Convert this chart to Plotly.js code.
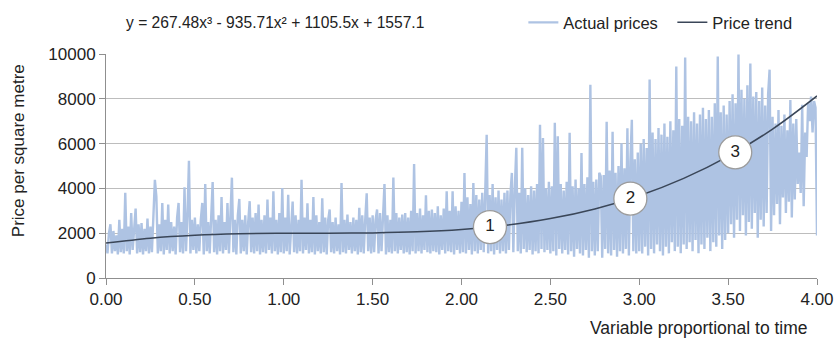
<!DOCTYPE html>
<html>
<head>
<meta charset="utf-8">
<script src="https://cdn.plot.ly/plotly-3.0.1.min.js"></script>
<style>html,body{margin:0;padding:0;background:#fff;}#chart{width:834px;height:338px;}</style>
</head>
<body>
<div id="chart"></div>
<script>
// Actual prices (x runs 0..4 in steps of 1/120)
const priceStep = 1 / 120;
const actualPrices = [
1500,1100,2000,2400,1100,2100,1200,1900,1050,2600,1150,2200,1100,3800,1200,2300,1050,2900,1250,2100,3100,1100,2400,1150,2450,1050,2200,1200,2650,1100,
2300,1150,2500,4380,3640,1100,2400,1200,3350,1050,2600,1250,3280,1100,2500,1200,2300,1050,2700,3350,1150,2500,1100,4050,1200,2800,5230,1100,2600,1250,
2700,1100,2400,1200,2600,3350,1050,4200,1200,2500,1100,2700,4280,1150,2600,1050,2800,1200,3620,1100,2500,1250,3350,1100,2700,4480,1150,2600,1050,2800,
3530,1100,2600,1200,2800,1050,2500,3430,1150,2700,1100,2900,1200,3280,1050,2600,1150,2800,1100,3500,1250,2700,1100,3870,1200,2600,1050,2900,1150,4020,
1100,2700,1200,3710,1050,2500,3410,1150,2800,1100,2600,1200,4380,1100,2700,1250,3330,1100,2600,1150,3620,1050,2800,1200,2500,1100,3560,1150,2700,1050,
2600,3060,1150,2500,1100,2700,1200,2400,1050,4240,1150,2600,1100,2830,1250,2500,1100,2700,1200,2600,1050,3130,1150,2800,1100,2600,3780,1200,2700,1100,
2800,1150,2600,3060,1100,2900,1200,2700,4190,1050,2800,1150,2600,1100,4490,1200,2900,1100,2700,1250,2830,1100,2900,1150,2700,1050,3000,1200,5090,1100,
2900,1200,3100,1100,2800,1250,3690,1150,3000,1100,3060,1200,2900,1150,3200,1050,2800,1250,3100,1100,3870,1200,3000,1150,3870,1050,3200,1250,3000,1100,
3400,1150,4690,1100,3600,1250,3300,1050,4240,1200,3700,1100,3500,1250,3800,1150,3400,6390,1100,3700,1200,4200,1050,3600,1250,3900,1100,3500,1200,3800,
1100,3900,1250,3700,4690,1150,4000,5810,1200,3800,1100,5810,1300,4000,1150,3700,1250,4100,1050,3900,1200,4200,1100,6840,1300,6250,1150,4000,1250,4300,
1100,4100,1200,6930,1000,6330,1300,4200,1100,3900,1250,4300,1050,6480,1200,4100,950,4400,1300,4000,1100,5580,1000,4200,1250,4500,900,8630,1200,4300,
1000,4400,1200,4700,4540,900,4600,1300,6970,1100,4800,1000,6530,1250,4700,950,5000,1200,6010,1100,4900,1300,6680,1000,5200,7060,1200,5300,1100,5600,
1200,6000,1100,6200,1400,5800,1000,8860,1300,6500,1100,6200,1500,6700,1200,6400,1000,6900,1400,6300,1100,7000,1600,6600,1200,9440,1400,7100,1100,6800,
1500,9840,1300,7200,1600,7000,1200,7400,1700,6900,1100,7300,1500,7600,1300,7100,1800,7500,1200,7200,1600,7800,1400,9890,1900,7400,1300,7700,1700,7300,
2000,7900,2400,8200,1800,7800,2600,9980,2100,8400,2800,8000,1900,8600,2500,9570,2200,8100,2900,8300,1800,7900,2600,8500,2300,7700,2900,8200,9300,2100,
7200,2800,6900,3300,7500,2400,6800,3600,7300,2900,6600,3400,7950,2700,6900,3500,7100,4200,5600,3800,7730,3200,6500,5400,7800,7000,8100,6500,7900,7600,1900
];
const priceX = actualPrices.map((v, i) => i * priceStep);

// Price trend
const trendX = [0,0.25,0.5,0.75,1,1.25,1.5,1.75,2,2.25,2.5,2.75,3,3.25,3.5,3.75,4];
const trendY = [1557,1779,1909,1973,1994,1999,2013,2060,2165,2354,2652,3084,3674,4449,5433,6649,8128];

// Numbered markers on the trend
const markX = [2.16, 2.95, 3.54];
const markY = [2275, 3542, 5610];
const markText = ['1', '2', '3'];

const equationText = 'y = 267.48x³ - 935.71x² + 1105.5x + 1557.1';
const xTicks = [0,0.5,1,1.5,2,2.5,3,3.5,4];
const xTickText = ['0.00','0.50','1.00','1.50','2.00','2.50','3.00','3.50','4.00'];
const yTicks = [0,2000,4000,6000,8000,10000];
const yTickText = ['0','2000','4000','6000','8000','10000'];

const FONT = 'Liberation Sans, Arial, sans-serif';

const traces = [
  {x: priceX, y: actualPrices, type: 'scatter', mode: 'lines', name: 'Actual prices',
   line: {color: '#aec3e3', width: 2.4}, hoverinfo: 'skip'},
  {x: trendX, y: trendY, type: 'scatter', mode: 'lines', name: 'Price trend',
   line: {color: '#3a4658', width: 1.5, shape: 'spline'}},
  {x: markX, y: markY, type: 'scatter', mode: 'markers+text', text: markText, showlegend: false,
   textposition: 'middle center', textfont: {family: FONT, size: 17, color: '#222'},
   marker: {size: 33, color: '#ffffff', line: {color: '#9c9c9c', width: 1.3}}}
];

const layout = {
  width: 834, height: 338,
  margin: {l: 106, r: 17, t: 54, b: 60, autoexpand: false},
  paper_bgcolor: '#fff', plot_bgcolor: '#fff',
  font: {family: FONT, size: 16, color: '#222'},
  showlegend: true,
  legend: {orientation: 'h', x: 0.587, xanchor: 'left', y: 1.14, yanchor: 'middle',
           entrywidth: 104, entrywidthmode: 'pixels',
           font: {family: FONT, size: 16.5, color: '#222'}, bgcolor: 'rgba(0,0,0,0)'},
  xaxis: {range: [0, 4], tickvals: xTicks, ticktext: xTickText, showgrid: false, zeroline: false,
          showline: true, linecolor: '#8f8f8f', linewidth: 1, ticks: 'outside', ticklen: 6,
          tickcolor: '#8f8f8f', tickfont: {family: FONT, size: 17, color: '#222'}},
  yaxis: {range: [0, 10000], tickvals: yTicks, ticktext: yTickText, showgrid: true, gridcolor: '#bdbdbd', gridwidth: 1,
          zeroline: false, showline: true, linecolor: '#8f8f8f', linewidth: 1, ticks: 'outside',
          ticklen: 6, tickcolor: '#8f8f8f', tickfont: {family: FONT, size: 17, color: '#222'}},
  annotations: [
    {text: equationText, xref: 'paper', yref: 'paper', x: 0.025, y: 1.14, xanchor: 'left',
     yanchor: 'middle', showarrow: false, font: {family: FONT, size: 15.6, color: '#222'}},
    {text: 'Price per square metre', xref: 'paper', yref: 'paper', x: -0.124, y: 0.57,
     xanchor: 'center', yanchor: 'middle', textangle: -90, showarrow: false,
     font: {family: FONT, size: 17, color: '#222'}},
    {text: 'Variable proportional to time', xref: 'paper', yref: 'paper', x: 0.99, y: -0.225,
     xanchor: 'right', yanchor: 'middle', showarrow: false, font: {family: FONT, size: 17.5, color: '#222'}}
  ]
};

Plotly.newPlot('chart', traces, layout, {displayModeBar: false, staticPlot: true});
</script>
</body>
</html>
